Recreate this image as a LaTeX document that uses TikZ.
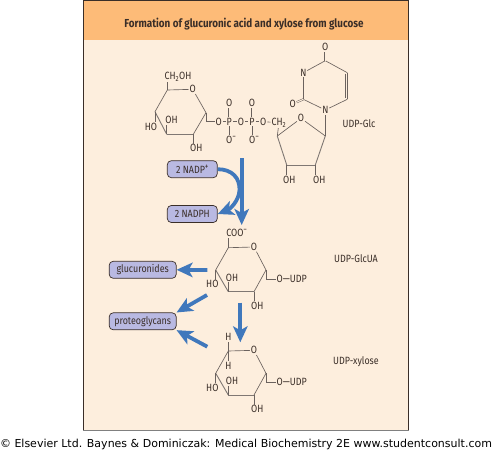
\documentclass[tikz,border=0pt]{standalone}
\usepackage{fontspec}
\setmainfont[FakeStretch=0.85]{Fira Sans}
\newfontfamily\creditfont{DejaVu Sans}
\usetikzlibrary{arrows.meta}
\definecolor{panelfill}{HTML}{FDEEDD}
\definecolor{headfill}{HTML}{FDBB78}
\definecolor{boxfill}{HTML}{B9B9E2}
\definecolor{flowblue}{HTML}{4078BC}
\definecolor{inkcol}{HTML}{3A2E28}
\newcommand{\charge}[1]{\raisebox{0.38em}{\fontsize{8.5}{9}\selectfont #1}}
\tikzset{
  atom/.style={inner sep=0.8pt, font=\fontsize{10.5}{11}\selectfont, text=inkcol},
  bond/.style={draw=inkcol!75, line width=0.65pt},
  thickbond/.style={draw=inkcol!65, line width=0.9pt},
  dblbond/.style={draw=inkcol!75, line width=0.5pt, double=panelfill, double distance=1pt},
  pool/.style={draw=inkcol, fill=boxfill, rounded corners=4pt, line width=0.7pt, minimum width=67pt, minimum height=17pt, inner sep=0pt, font=\fontsize{10.5}{11}\selectfont, text=inkcol},
  shortpool/.style={pool, minimum width=50pt},
  flow/.style={draw=flowblue, line width=3.8pt, -{Stealth[length=16pt, width=14.5pt, inset=4pt]}},
  tag/.style={inner sep=0pt, font=\fontsize{10.5}{11}\selectfont, text=inkcol}
}
\begin{document}
\begin{tikzpicture}[x=1pt, y=-1pt]
\useasboundingbox (0,0) rectangle (492,452);
\fill[panelfill] (83.5,40) rectangle (408.5,430);
\fill[headfill] (83.5,0.5) rectangle (408.5,40);
\draw[inkcol, line width=0.6pt] (83.5,430) -- (83.5,0.5) -- (408.5,0.5) -- (408.5,430);
\draw[gray, line width=1.6pt] (83,430.5) -- (409,430.5);
\node[inner sep=0pt, font=\bfseries\fontsize{11.6}{12}\selectfont, text=inkcol] (title) at (244,24.5) {Formation of glucuronic acid and xylose from glucose};
\node[inner sep=0pt, font=\creditfont\fontsize{11}{12}\selectfont, text=black] (credit) at (246,444) {© Elsevier Ltd. Baynes \& Dominiczak: Medical Biochemistry 2E www.studentconsult.com};

\coordinate (ac5) at (167.3,90);
\coordinate (ac1) at (206,112.7);
\coordinate (ac2) at (193.3,134.3);
\coordinate (ac3) at (166.7,134.3);
\coordinate (ac4) at (155,111.7);
\node[atom] (aring) at (192.7,89.3) {O};
\node[atom] (ach) at (178,76.7) {CH\textsubscript{2}OH};
\node[atom] (aho) at (151,127) {HO};
\node[atom] (aoh) at (171.5,120) {OH};
\node[atom] (aohb) at (196.3,148.3) {OH};
\node[atom] (oa) at (218.7,121.7) {O};
\node[atom] (pa) at (229.3,121.7) {P};
\node[atom] (ob) at (241,121.7) {O};
\node[atom] (pb) at (252,121.7) {P};
\node[atom] (oc) at (263.3,121.7) {O};
\node[atom] (ch) at (279,122.7) {CH\textsubscript{2}};
\node[atom] (oat) at (229.3,103.3) {O};
\node[atom] (obt) at (252,103.3) {O};
\node[atom] (oam) at (231,140) {O\charge{−}};
\node[atom] (obm) at (254,140) {O\charge{−}};

\draw[bond] (ac5) -- (aring);
\draw[bond] (aring) -- (ac1);
\draw[bond] (ac1) -- (ac2);
\draw[thickbond] (ac2) -- (ac3);
\draw[thickbond] (ac3) -- (ac4);
\draw[bond] (ac4) -- (ac5);
\draw[bond] (ac5) -- (167.3,81.5);
\draw[bond] (ac4) -- (aho.north -| ac4);
\draw[bond] (ac3) -- (aoh.south -| ac3);
\draw[bond] (ac2) -- (aohb.north -| ac2);
\draw[bond] (ac1) |- (oa);
\draw[bond] (oa) -- (pa);
\draw[bond] (pa) -- (ob);
\draw[bond] (ob) -- (pb);
\draw[bond] (pb) -- (oc);
\draw[bond] (oc) -- (ch);
\draw[dblbond] (pa) -- (oat);
\draw[dblbond] (pb) -- (obt);
\draw[bond] (pa) -- (oam.north -| pa);
\draw[bond] (pb) -- (obm.north -| pb);

\coordinate (rc4) at (277.3,136);
\coordinate (rc1) at (325.3,136);
\coordinate (rc2) at (315.3,165);
\coordinate (rc3) at (286.7,165);
\node[atom] (rring) at (301,118.3) {O};
\node[atom] (rohl) at (289.3,180) {OH};
\node[atom] (rohr) at (319.3,180) {OH};
\draw[bond] (ch) -- (rc4);
\draw[bond] (rc4) -- (rring);
\draw[bond] (rring) -- (rc1);
\draw[thickbond] (rc1) -- (rc2);
\draw[thickbond] (rc2) -- (rc3);
\draw[thickbond] (rc3) -- (rc4);
\draw[bond] (rc3) -- (rohl.north -| rc3);
\draw[bond] (rc2) -- (rohr.north -| rc2);

\node[atom] (un) at (325.3,110) {N};
\node[atom] (unt) at (303.3,72.7) {N};
\node[atom] (uob) at (292.7,104) {O};
\node[atom] (uot) at (325.3,47.3) {O};
\coordinate (uc2) at (303.3,99.3);
\coordinate (uc4) at (325.3,60.7);
\coordinate (uc5) at (347.3,72.7);
\coordinate (uc6) at (347.3,99.3);
\draw[bond] (rc1) -- (un);
\draw[bond] (un) -- (uc2);
\draw[bond] (uc2) -- (unt);
\draw[bond] (unt) -- (uc4);
\draw[bond] (uc4) -- (uc5);
\draw[bond] (uc5) -- (uc6);
\draw[bond] ([xshift=-1.8pt, yshift=-1pt]uc5) -- ([xshift=-1.8pt, yshift=1pt]uc6);
\draw[bond] (uc6) -- (un);
\draw[dblbond] (uc2) -- (uob);
\draw[dblbond] (uc4) -- (uot);

\node[tag] (glc) at (359,124) {UDP-Glc};
\node[tag] (glcua) at (356,259) {UDP-GlcUA};
\node[tag] (xylose) at (356,362) {UDP-xylose};

\node[shortpool] (nadp) at (192.3,169.2) {2 NADP\charge{+}};
\node[shortpool] (nadph) at (192.3,214) {2 NADPH};
\node[pool] (glucuronides) at (142.7,269.8) {glucuronides};
\node[pool] (proteoglycans) at (142.7,321.3) {proteoglycans};

\coordinate (bc5) at (228.3,247.7);
\coordinate (bc1) at (266,270);
\coordinate (bc2) at (254,291.7);
\coordinate (bc3) at (228.3,291.7);
\coordinate (bc4) at (215.7,270);
\node[atom] (bring) at (254,247) {O};
\node[atom] (bcoo) at (236.7,233.3) {COO\charge{−}};
\node[atom] (budp) at (291.7,279.3) {O—UDP};
\node[atom] (bho) at (212.3,284.3) {HO};
\node[atom] (boh) at (232,277.7) {OH};
\node[atom] (bohb) at (257.3,305.7) {OH};
\draw[bond] (bc5) -- (bring);
\draw[bond] (bring) -- (bc1);
\draw[bond] (bc1) -- (bc2);
\draw[thickbond] (bc2) -- (bc3);
\draw[thickbond] (bc3) -- (bc4);
\draw[bond] (bc4) -- (bc5);
\draw[bond] (bc5) -- (bcoo.south -| bc5);
\draw[bond] (bc4) -- (bho.north -| bc4);
\draw[bond] (bc3) -- (boh.south -| bc3);
\draw[bond] (bc2) -- (bohb.north -| bc2);
\draw[bond] (bc1) |- (budp.west);

\coordinate (cc5) at (228.3,351);
\coordinate (cc1) at (266,373.3);
\coordinate (cc2) at (254,395);
\coordinate (cc3) at (228.3,395);
\coordinate (cc4) at (215.7,373.3);
\node[atom] (cring) at (254,350.3) {O};
\node[atom] (chtop) at (228.3,337.3) {H};
\node[atom] (chlow) at (228.3,366) {H};
\node[atom] (cudp) at (291.7,382.3) {O—UDP};
\node[atom] (cho) at (212.3,387.7) {HO};
\node[atom] (coh) at (232,381) {OH};
\node[atom] (cohb) at (257.3,409.3) {OH};
\draw[bond] (cc5) -- (cring);
\draw[bond] (cring) -- (cc1);
\draw[bond] (cc1) -- (cc2);
\draw[thickbond] (cc2) -- (cc3);
\draw[thickbond] (cc3) -- (cc4);
\draw[bond] (cc4) -- (cc5);
\draw[bond] (cc5) -- (chtop);
\draw[bond] (cc5) -- (chlow);
\draw[bond] (cc4) -- (cho.north -| cc4);
\draw[bond] (cc3) -- (coh.south -| cc3);
\draw[bond] (cc2) -- (cohb.north -| cc2);
\draw[bond] (cc1) |- (cudp.west);

\coordinate (mainstart) at (241.7,158);
\coordinate (mainend) at (241.7,225);
\coordinate (sidestart) at (207.3,270);
\coordinate (upstart) at (207,295);
\coordinate (lowstart) at (207.3,346.7);
\coordinate (downstart) at (240.3,302.7);
\coordinate (downend) at (240.3,342.3);
\draw[flow] (nadp.east) .. controls (232,169.2) and (240,178) .. (239.5,190) .. controls (239,201) and (230,209) .. (nadph.east);
\draw[flow] (mainstart) -- (mainend);
\draw[flow] (sidestart) -- (glucuronides.east);
\draw[flow] (upstart) -- (proteoglycans.north east);
\draw[flow] (lowstart) -- (proteoglycans.south east);
\draw[flow] (downstart) -- (downend);
\end{tikzpicture}
\end{document}
